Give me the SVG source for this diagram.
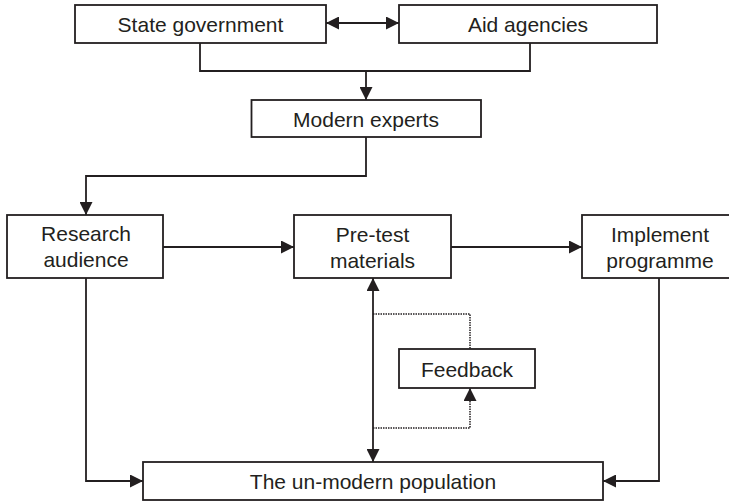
<svg xmlns="http://www.w3.org/2000/svg" width="729" height="501" viewBox="0 0 729 501">
<style>
.box{fill:#fff;stroke:#231f20;stroke-width:1.8}
.t{font-family:"Liberation Sans",Arial,sans-serif;font-size:21px;fill:#231f20;text-anchor:middle}
.c{fill:none;stroke:#231f20;stroke-width:1.8}
.d{fill:none;stroke:#231f20;stroke-width:1.5;stroke-dasharray:1.5 1}
</style>
<defs>
<marker id="ah" markerUnits="userSpaceOnUse" markerWidth="13" markerHeight="13" viewBox="0 0 13 13" refX="13" refY="6.5" orient="auto-start-reverse">
<path d="M0,0 L13,6.5 L0,13 z" fill="#231f20"/>
</marker>
</defs>
<rect width="729" height="501" fill="#fff"/>
<g id="connectors">
<path class="c" d="M326,23 H399" marker-start="url(#ah)" marker-end="url(#ah)"/>
<path class="c" d="M200,43 V71 H530 V43"/>
<path class="c" d="M366,71 V100" marker-end="url(#ah)"/>
<path class="c" d="M366,137 V176 H86 V215" marker-end="url(#ah)"/>
<path class="c" d="M163,247 H294" marker-end="url(#ah)"/>
<path class="c" d="M451,247 H582" marker-end="url(#ah)"/>
<path class="c" d="M86,278 V481 H143" marker-end="url(#ah)"/>
<path class="c" d="M659,278 V481 H603" marker-end="url(#ah)"/>
<path class="c" d="M373,278 V462" marker-start="url(#ah)" marker-end="url(#ah)"/>
<path class="d" d="M373,314 H470 V349"/>
<path class="d" d="M373,428 H470 V388" marker-end="url(#ah)"/>
</g>
<g id="state-government"><rect class="box" x="75" y="5" width="251" height="38"/><text class="t" x="200.5" y="32">State government</text></g>
<g id="aid-agencies"><rect class="box" x="399" y="5" width="258" height="38"/><text class="t" x="528" y="32">Aid agencies</text></g>
<g id="modern-experts"><rect class="box" x="251.5" y="100" width="229.5" height="37"/><text class="t" x="366" y="126.5">Modern experts</text></g>
<g id="research-audience"><rect class="box" x="7" y="215" width="156" height="63"/><text class="t" x="86" y="241">Research</text><text class="t" x="86" y="267">audience</text></g>
<g id="pre-test-materials"><rect class="box" x="294" y="215" width="157" height="63"/><text class="t" x="372.5" y="241.5">Pre-test</text><text class="t" x="372.5" y="267.5">materials</text></g>
<g id="implement-programme"><rect class="box" x="582" y="215" width="155" height="63"/><text class="t" x="660" y="241.5">Implement</text><text class="t" x="660" y="267.5">programme</text></g>
<g id="feedback"><rect class="box" x="399" y="349" width="136" height="39"/><text class="t" x="467" y="376.5">Feedback</text></g>
<g id="un-modern-population"><rect class="box" x="143" y="462" width="460" height="38"/><text class="t" x="373" y="489">The un-modern population</text></g>
</svg>
